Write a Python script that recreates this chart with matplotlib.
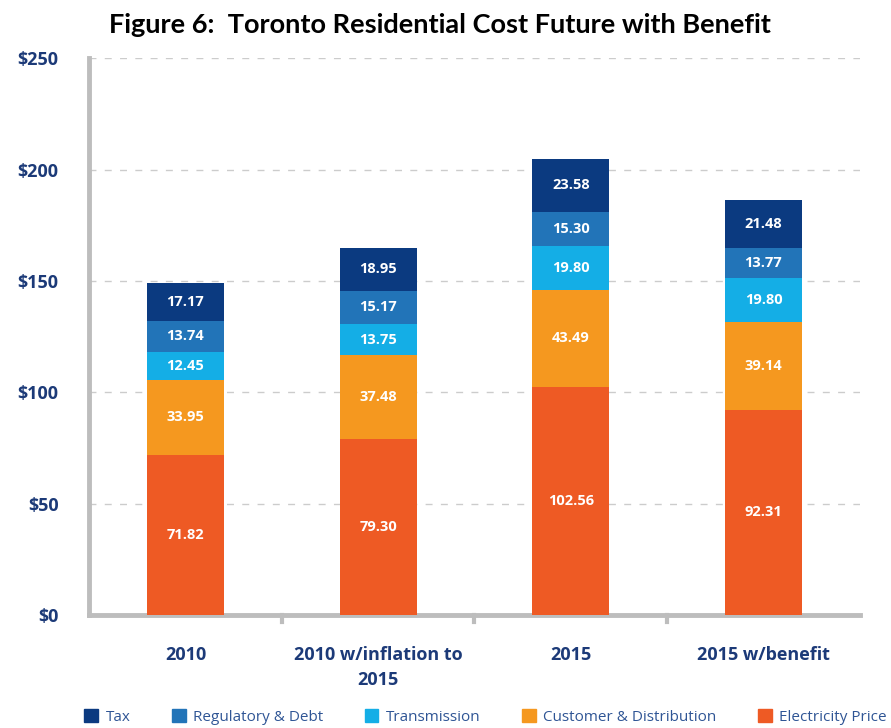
import numpy as np
import matplotlib.pyplot as plt
from matplotlib.patches import Patch

categories = ['2010', '2010 w/inflation to\n2015', '2015', '2015 w/benefit']
electricity = [71.82, 79.30, 102.56, 92.31]
customer = [33.95, 37.48, 43.49, 39.14]
transmission = [12.45, 13.75, 19.80, 19.80]
regulatory = [13.74, 15.17, 15.30, 13.77]
tax = [17.17, 18.95, 23.58, 21.48]

series = [
    ('Electricity Price', electricity, '#ee5a24'),
    ('Customer & Distribution', customer, '#f5981f'),
    ('Transmission', transmission, '#14aee6'),
    ('Regulatory & Debt', regulatory, '#2274b8'),
    ('Tax', tax, '#0b3a80'),
]

plt.rcParams['font.family'] = ['Open Sans', 'DejaVu Sans']
navy = '#1c3a78'
gray = '#bdbdbd'

fig = plt.figure(figsize=(8.91, 7.28), dpi=100)
ax = fig.add_axes([0.1, 0.155, 0.865, 0.765])

x = np.arange(len(categories))
bottom = np.zeros(len(categories))
for name, vals, col in series:
    ax.bar(x, vals, 0.4, bottom=bottom, color=col, zorder=3)
    for xi, b, v in zip(x, bottom, vals):
        ax.text(xi, b + v / 2, f'{v:.2f}', ha='center', va='center',
                color='white', fontsize=10.5, fontweight='bold', zorder=4)
    bottom = bottom + np.array(vals)

ax.set_xlim(-0.5, 3.5)
ax.set_ylim(0, 250)
ax.set_yticks([0, 50, 100, 150, 200, 250])
ax.set_yticklabels(['$0', '$50', '$100', '$150', '$200', '$250'])
ax.yaxis.grid(True, linestyle=(0, (5, 6)), color='#cccccc', linewidth=1, zorder=0)
ax.tick_params(axis='y', length=0, pad=22, labelsize=13, labelcolor=navy)
for lab in ax.get_yticklabels():
    lab.set_fontweight('bold')

ax.set_xticks(x)
ax.set_xticklabels(categories, linespacing=1.5)
ax.tick_params(axis='x', length=0, pad=22, labelsize=13, labelcolor=navy)
for lab in ax.get_xticklabels():
    lab.set_fontweight('bold')
for b in [0.5, 1.5, 2.5]:
    ax.plot([b, b], [0, -3], color=gray, lw=3, clip_on=False, zorder=2)

for s in ['top', 'right']:
    ax.spines[s].set_visible(False)
ax.spines['left'].set_color(gray)
ax.spines['left'].set_linewidth(3.5)
ax.spines['bottom'].set_color(gray)
ax.spines['bottom'].set_linewidth(3.5)

fig.text(0.494, 0.966, 'Figure 6:  Toronto Residential Cost Future with Benefit',
         ha='center', va='center', fontsize=19.5, fontweight='bold',
         family=['Lato', 'DejaVu Sans'])

handles = [Patch(color=c, label=n) for n, v, c in series[::-1]]
fig.legend(handles=handles, loc='center', bbox_to_anchor=(0.545, 0.015), ncol=5,
           frameon=False, fontsize=11, handlelength=0.9, handleheight=0.9,
           columnspacing=2.7, handletextpad=0.5, labelcolor='#2f5595')

fig.savefig('out.png', dpi=100)
